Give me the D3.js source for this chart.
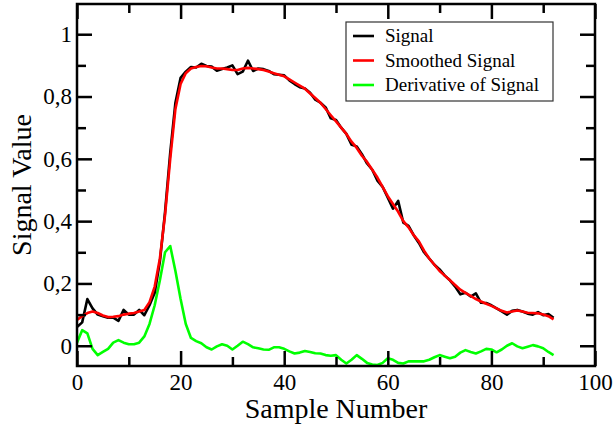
<!DOCTYPE html>
<html>
<head>
<meta charset="utf-8">
<script src="https://cdn.jsdelivr.net/npm/d3@7"></script>
<style>
  body { margin: 0; background: #fff; }
  svg { display: block; font-family: "Liberation Serif", "Times New Roman", serif; }
</style>
</head>
<body>
<script>
// values
var samples = d3.range(0, 93);

var signal = [0.06, 0.075, 0.15, 0.12, 0.10, 0.095, 0.09, 0.09, 0.08, 0.115,
    0.10, 0.10, 0.115, 0.098, 0.13, 0.17, 0.27, 0.43, 0.62, 0.78,
    0.86, 0.88, 0.895, 0.893, 0.905, 0.898, 0.896, 0.883, 0.888, 0.893,
    0.90, 0.872, 0.88, 0.915, 0.882, 0.89, 0.888, 0.882, 0.872, 0.87,
    0.868, 0.852, 0.84, 0.83, 0.826, 0.812, 0.79, 0.78, 0.765, 0.73,
    0.725, 0.70, 0.68, 0.645, 0.64, 0.615, 0.585, 0.565, 0.53, 0.51,
    0.475, 0.44, 0.465, 0.395, 0.385, 0.355, 0.33, 0.30, 0.28, 0.26,
    0.245, 0.225, 0.21, 0.19, 0.165, 0.17, 0.158, 0.168, 0.138, 0.137,
    0.13, 0.12, 0.11, 0.10, 0.112, 0.115, 0.11, 0.103, 0.10, 0.108,
    0.098, 0.102, 0.09];

var smoothed = [0.083, 0.095, 0.105, 0.11, 0.105, 0.097, 0.092, 0.093, 0.095, 0.10,
    0.103, 0.105, 0.11, 0.115, 0.14, 0.19, 0.28, 0.42, 0.60, 0.76,
    0.84, 0.875, 0.89, 0.895, 0.898, 0.897, 0.893, 0.89, 0.89, 0.888,
    0.885, 0.885, 0.89, 0.892, 0.89, 0.888, 0.885, 0.88, 0.875, 0.87,
    0.865, 0.855, 0.845, 0.835, 0.825, 0.81, 0.795, 0.78, 0.76, 0.74,
    0.72, 0.70, 0.68, 0.655, 0.635, 0.61, 0.59, 0.565, 0.54, 0.51,
    0.48, 0.455, 0.43, 0.40, 0.38, 0.355, 0.335, 0.305, 0.28, 0.26,
    0.24, 0.225, 0.21, 0.195, 0.18, 0.17, 0.16, 0.15, 0.142, 0.135,
    0.128, 0.12, 0.112, 0.107, 0.11, 0.113, 0.11, 0.106, 0.105, 0.104,
    0.10, 0.095, 0.085];

var derivative = [0.01, 0.05, 0.04, -0.01, -0.03, -0.02, -0.01, 0.01, 0.018, 0.01,
    0.005, 0.005, 0.01, 0.03, 0.07, 0.13, 0.21, 0.30, 0.32, 0.24,
    0.15, 0.07, 0.025, 0.015, 0.008, -0.005, -0.012, -0.002, 0.005, 0.0,
    -0.012, 0.0, 0.013, 0.005, -0.005, -0.008, -0.012, -0.013, -0.005, -0.005,
    -0.01, -0.018, -0.025, -0.022, -0.017, -0.02, -0.024, -0.025, -0.03, -0.032,
    -0.03, -0.045, -0.057, -0.045, -0.03, -0.042, -0.055, -0.06, -0.062, -0.055,
    -0.04, -0.045, -0.055, -0.057, -0.05, -0.05, -0.05, -0.05, -0.045, -0.037,
    -0.03, -0.035, -0.04, -0.035, -0.022, -0.014, -0.02, -0.025, -0.018, -0.01,
    -0.012, -0.021, -0.012, 0.0, 0.008, -0.002, -0.008, -0.003, 0.002, -0.002,
    -0.008, -0.02, -0.03];

var seriesNames = ["Signal", "Smoothed Signal", "Derivative of Signal"];
var seriesColors = ["#000000", "#ff0000", "#00ff00"];

var xTicks = [0, 20, 40, 60, 80, 100];
var xTickLabels = ["0", "20", "40", "60", "80", "100"];
var xMinor = [10, 30, 50, 70, 90];
var yTicks = [0, 0.2, 0.4, 0.6, 0.8, 1];
var yTickLabels = ["0", "0,2", "0,4", "0,6", "0,8", "1"];
var yMinor = [0.1, 0.3, 0.5, 0.7, 0.9];

var W = 616, H = 425;
var margin = {left: 77, right: 21, top: 4, bottom: 59};
var w = W - margin.left - margin.right,
    h = H - margin.top - margin.bottom;

var x = d3.scaleLinear().domain([0, 100]).range([0, w]);
var y = d3.scaleLinear().domain([-0.065, 1.097]).range([h, 0]);

var svg = d3.select("body").append("svg")
    .attr("width", W)
    .attr("height", H);

var g = svg.append("g")
    .attr("transform", "translate(" + margin.left + "," + margin.top + ")");

// data lines first, frame and ticks go on top
var line = d3.line()
    .x(function(d) { return x(d[0]); })
    .y(function(d) { return y(d[1]); });

var allSeries = [signal, smoothed, derivative];
g.append("defs").append("clipPath").attr("id", "clip")
    .append("rect").attr("width", w).attr("height", h);

[2, 0, 1].forEach(function(i) {
    g.append("path")
        .datum(samples.map(function(s, k) { return [s, allSeries[i][k]]; }))
        .attr("clip-path", "url(#clip)")
        .attr("fill", "none")
        .attr("stroke", seriesColors[i])
        .attr("stroke-width", 2.6)
        .attr("stroke-linejoin", "round")
        .attr("d", line);
});

function styleAxis(sel) {
    sel.select(".domain").remove();
    sel.selectAll(".tick line").attr("stroke", "#000").attr("stroke-width", 2.5);
    sel.selectAll("text").attr("font-family", "Liberation Serif, Times New Roman, serif")
        .attr("font-size", 23).attr("fill", "#000");
}

// major + minor ticks, pointing inward, on all four sides
g.append("g").attr("transform", "translate(0," + h + ")")
    .call(d3.axisBottom(x).tickValues(xTicks).tickSize(-15).tickPadding(8)
        .tickFormat(function(d, i) { return xTickLabels[i]; }))
    .call(styleAxis);
g.append("g").attr("transform", "translate(0," + h + ")")
    .call(d3.axisBottom(x).tickValues(xMinor).tickSize(-9).tickFormat(""))
    .call(styleAxis);
g.append("g")
    .call(d3.axisTop(x).tickValues(xTicks).tickSize(-15).tickFormat(""))
    .call(styleAxis);
g.append("g")
    .call(d3.axisTop(x).tickValues(xMinor).tickSize(-9).tickFormat(""))
    .call(styleAxis);

g.append("g")
    .call(d3.axisLeft(y).tickValues(yTicks).tickSize(-15).tickPadding(5)
        .tickFormat(function(d, i) { return yTickLabels[i]; }))
    .call(styleAxis);
g.append("g")
    .call(d3.axisLeft(y).tickValues(yMinor).tickSize(-9).tickFormat(""))
    .call(styleAxis);
g.append("g").attr("transform", "translate(" + w + ",0)")
    .call(d3.axisRight(y).tickValues(yTicks).tickSize(-15).tickFormat(""))
    .call(styleAxis);
g.append("g").attr("transform", "translate(" + w + ",0)")
    .call(d3.axisRight(y).tickValues(yMinor).tickSize(-9).tickFormat(""))
    .call(styleAxis);

g.append("rect")
    .attr("width", w)
    .attr("height", h)
    .attr("fill", "none")
    .attr("stroke", "#000")
    .attr("stroke-width", 2.5);

// axis titles
svg.append("text")
    .attr("x", margin.left + w / 2)
    .attr("y", 418)
    .attr("text-anchor", "middle")
    .attr("font-size", 28)
    .text("Sample Number");

svg.append("text")
    .attr("transform", "translate(31," + (margin.top + h / 2) + ") rotate(-90)")
    .attr("text-anchor", "middle")
    .attr("font-size", 28)
    .text("Signal Value");

// legend
var legend = svg.append("g").attr("transform", "translate(346,22)");
legend.append("rect")
    .attr("width", 207)
    .attr("height", 79)
    .attr("fill", "#fff")
    .attr("stroke", "#333")
    .attr("stroke-width", 1.2);

var item = legend.selectAll(".item")
    .data(seriesNames)
    .enter().append("g")
    .attr("transform", function(d, i) { return "translate(0," + (14 + i * 24.5) + ")"; });

item.append("line")
    .attr("x1", 7).attr("x2", 28)
    .attr("stroke", function(d, i) { return seriesColors[i]; })
    .attr("stroke-width", 2.6);

item.append("text")
    .attr("x", 39)
    .attr("dy", "0.33em")
    .attr("font-size", 19)
    .text(function(d) { return d; });
</script>
</body>
</html>
